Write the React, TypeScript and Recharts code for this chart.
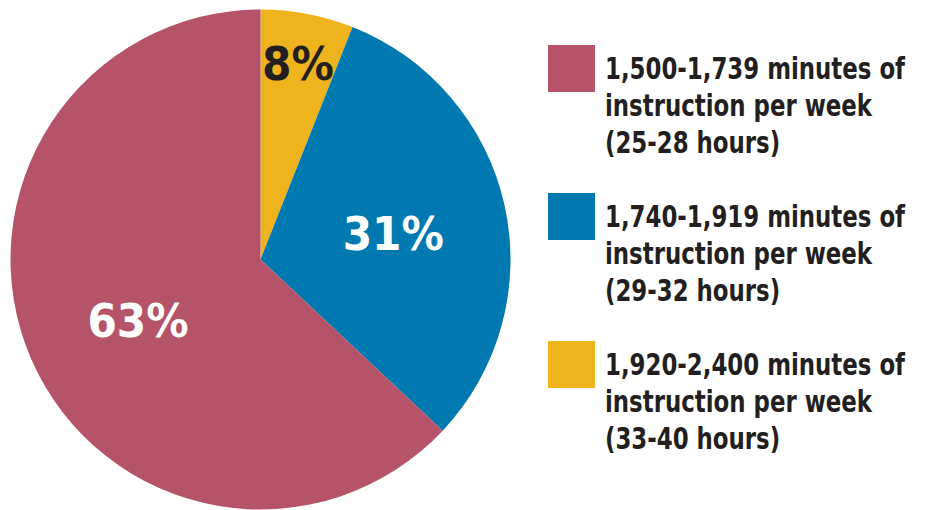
import React from "react";
import { PieChart, Pie, Cell, Legend } from "recharts";

// clockwise from 12 o'clock
const categories = [
  "1,920-2,400 minutes of instruction per week (33-40 hours)",
  "1,740-1,919 minutes of instruction per week (29-32 hours)",
  "1,500-1,739 minutes of instruction per week (25-28 hours)",
];
const legendLines = [
  ["1,920-2,400 minutes of", "instruction per week", "(33-40 hours)"],
  ["1,740-1,919 minutes of", "instruction per week", "(29-32 hours)"],
  ["1,500-1,739 minutes of", "instruction per week", "(25-28 hours)"],
];
const values = [6, 31, 63];
const percentLabels = ["8%", "31%", "63%"];
const colors = ["#EFB31E", "#0079B0", "#B55468"];
const labelColors = ["#231F20", "#FFFFFF", "#FFFFFF"];
// label placement tweaks: radius fraction plus small nudges
const labelRadius = [0.8, 0.54, 0.56];
const labelNudge = [
  [0, 0],
  [1, 3],
  [6, 5],
];

const FONT = "'DejaVu Sans Condensed', 'DejaVu Sans', sans-serif";
const RAD = Math.PI / 180;

const data = categories.map((name, i) => ({ name, value: values[i] }));

function renderLabel(props: any) {
  const { cx, cy, midAngle, outerRadius, index } = props;
  const r = outerRadius * labelRadius[index];
  const x = cx + r * Math.cos(-midAngle * RAD) + labelNudge[index][0];
  const y = cy + r * Math.sin(-midAngle * RAD) + labelNudge[index][1];
  return (
    <text
      x={x}
      y={y + 17}
      textAnchor="middle"
      fill={labelColors[index]}
      fontFamily={FONT}
      fontWeight={700}
      fontSize={47}
    >
      {percentLabels[index]}
    </text>
  );
}

function LegendBox() {
  // legend reads top-down in reverse slice order
  const order = [2, 1, 0];
  return (
    <div style={{ fontFamily: FONT, fontWeight: 700, color: "#231F20" }}>
      {order.map((i, k) => (
        <div key={k} style={{ display: "flex", marginBottom: k < 2 ? 37 : 0 }}>
          <div
            style={{
              width: 47,
              height: 47,
              background: colors[i],
              marginTop: -5,
              marginRight: 10,
              flexShrink: 0,
            }}
          />
          <div
            style={{
              fontSize: 31,
              lineHeight: "37px",
              whiteSpace: "nowrap",
              transform: "scaleX(0.82)",
              transformOrigin: "left center",
            }}
          >
            {legendLines[i].map((l, j) => (
              <div key={j}>{l}</div>
            ))}
          </div>
        </div>
      ))}
    </div>
  );
}

export default function App() {
  return (
    <div style={{ position: "absolute", left: 0, top: 0, background: "#fff" }}>
      <PieChart width={930} height={510} margin={{ top: 0, right: 0, bottom: 0, left: 0 }}>
        <Pie
          data={data}
          dataKey="value"
          nameKey="name"
          cx={260.5}
          cy={259.5}
          outerRadius={250}
          startAngle={90}
          endAngle={-270}
          stroke="none"
          label={renderLabel}
          labelLine={false}
          isAnimationActive={false}
        >
          {data.map((d, i) => (
            <Cell key={d.name} fill={colors[i]} />
          ))}
        </Pie>
        <Legend
          layout="vertical"
          verticalAlign="top"
          align="right"
          content={() => <LegendBox />}
          wrapperStyle={{ left: 548, top: 50, width: 380 }}
        />
      </PieChart>
    </div>
  );
}
